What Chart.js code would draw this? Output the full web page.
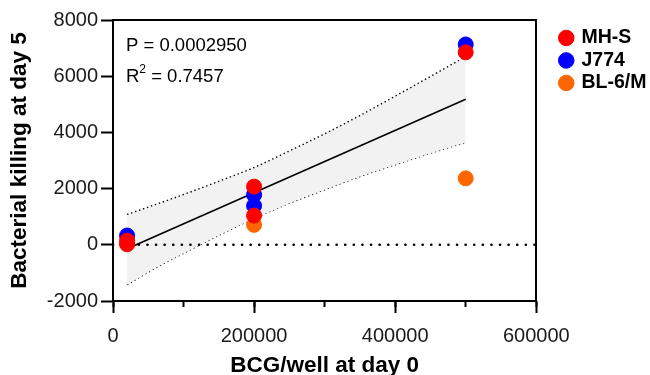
<!DOCTYPE html>
<html>
<head>
<meta charset="utf-8">
<script src="https://cdn.jsdelivr.net/npm/chart.js@4"></script>
<style>
  html, body { margin: 0; padding: 0; background: #fff; }
</style>
</head>
<body>
<canvas id="killChart" width="650" height="375"></canvas>
<script>
// values
const mhsX = [20000, 20000, 200000, 200000, 500000];
const mhsY = [150, 20, 2070, 1040, 6850];
const j774X = [20000, 200000, 200000, 500000];
const j774Y = [330, 1780, 1390, 7130];
const bl6X = [20000, 200000, 500000];
const bl6Y = [40, 710, 2365];

// linear fit and its 95% band
const fitX = [20000, 500000];
const fitY = [-140, 5180];
const bandX = [20000, 60000, 100000, 150000, 200000, 250000, 300000, 350000, 400000, 450000, 500000];
const bandUpper = [1080, 1430, 1790, 2260, 2750, 3340, 3950, 4600, 5290, 5990, 6700];
const bandLower = [-1420, -830, -300, 340, 940, 1480, 1960, 2430, 2850, 3260, 3650];

const zeroX = [0, 600000];
const zeroY = [0, 0];

const pText = "P = 0.0002950";
const r2Value = "0.7457";

const FONT = "'Liberation Sans', Arial, sans-serif";

function pts(xs, ys) {
    return xs.map((x, i) => ({x: x, y: ys[i]}));
}

// P and R² text in the top left corner of the plot
const statsText = {
    id: "statsText",
    afterDatasetsDraw(chart) {
        const a = chart.chartArea;
        const ctx = chart.ctx;
        const x0 = a.left + 13;
        ctx.save();
        ctx.fillStyle = "#000";
        ctx.textBaseline = "alphabetic";
        ctx.font = "18.5px " + FONT;
        ctx.fillText(pText, x0, a.top + 31);
        ctx.fillText("R", x0, a.top + 62);
        const rw = ctx.measureText("R").width;
        ctx.font = "12px " + FONT;
        ctx.fillText("2", x0 + rw, a.top + 53);
        const w2 = ctx.measureText("2").width;
        ctx.font = "18.5px " + FONT;
        ctx.fillText(" = " + r2Value, x0 + rw + w2, a.top + 62);
        ctx.restore();
    }
};

new Chart("killChart", {
    type: "scatter",
    data: {
        datasets: [{
            label: "MH-S",
            data: pts(mhsX, mhsY),
            backgroundColor: "#ff0000",
            borderColor: "#ff0000",
            pointRadius: 7.5,
            pointHoverRadius: 7.5,
            order: 0
        }, {
            label: "J774",
            data: pts(j774X, j774Y),
            backgroundColor: "#0000ff",
            borderColor: "#0000ff",
            pointRadius: 7.5,
            pointHoverRadius: 7.5,
            order: 1
        }, {
            label: "BL-6/M",
            data: pts(bl6X, bl6Y),
            backgroundColor: "#ff6600",
            borderColor: "#ff6600",
            pointRadius: 7.5,
            pointHoverRadius: 7.5,
            order: 2
        }, {
            label: "fit",
            data: pts(fitX, fitY),
            showLine: true,
            borderColor: "#000",
            borderWidth: 1.6,
            pointRadius: 0,
            order: 5
        }, {
            label: "upper",
            data: pts(bandX, bandUpper),
            showLine: true,
            borderColor: "#000",
            borderWidth: 1.4,
            borderDash: [1.4, 2.8],
            cubicInterpolationMode: "monotone",
            pointRadius: 0,
            backgroundColor: "#f2f2f2",
            fill: "+1",
            order: 8
        }, {
            label: "lower",
            data: pts(bandX, bandLower),
            showLine: true,
            borderColor: "#000",
            borderWidth: 1.4,
            borderDash: [1.4, 2.8],
            cubicInterpolationMode: "monotone",
            pointRadius: 0,
            order: 9
        }, {
            label: "zero",
            data: pts(zeroX, zeroY),
            showLine: true,
            borderColor: "#000",
            borderWidth: 2.6,
            borderDash: [0.1, 8.5],
            borderCapStyle: "round",
            pointRadius: 0,
            order: 7
        }]
    },
    options: {
        responsive: false,
        animation: false,
        devicePixelRatio: 1,
        layout: { padding: { top: 20, right: -6.5, left: 0, bottom: 0 } },
        plugins: {
            tooltip: { enabled: false },
            legend: {
                position: "right",
                align: "start",
                title: { display: true, text: "", font: { size: 1 }, padding: { top: 0, bottom: 4 } },
                labels: {
                    filter: (item) => item.datasetIndex < 3,
                    usePointStyle: true,
                    pointStyle: "circle",
                    boxWidth: 11,
                    boxHeight: 11,
                    padding: 3,
                    color: "#000",
                    font: { family: FONT, size: 19.5, weight: "bold" }
                }
            }
        },
        scales: {
            xMinor: {
                type: "linear",
                position: "bottom",
                weight: 0,
                min: 0,
                max: 600000,
                afterFit: (s) => { s.height = 0; },
                ticks: { stepSize: 100000, display: false },
                grid: { drawOnChartArea: false, tickLength: 6, tickWidth: 2, tickColor: "#000" },
                border: { display: false }
            },
            x: {
                type: "linear",
                position: "bottom",
                weight: 1,
                min: 0,
                max: 600000,
                afterFit: (s) => { s.height = 74; },
                ticks: {
                    stepSize: 200000,
                    autoSkip: false,
                    maxRotation: 0,
                    color: "#1a1a1a",
                    padding: 11,
                    font: { family: FONT, size: 20 },
                    callback: (v) => String(v)
                },
                grid: { drawOnChartArea: false, tickLength: 12, tickWidth: 2, tickColor: "#000" },
                border: { color: "#000", width: 2 },
                title: {
                    display: true,
                    text: "BCG/well at day 0",
                    color: "#000",
                    padding: { top: 0, bottom: -4 },
                    font: { family: FONT, size: 22.5, weight: "bold" }
                }
            },
            xTop: {
                type: "linear",
                position: "top",
                min: 0,
                max: 600000,
                afterFit: (s) => { s.height = 0; },
                ticks: { display: false },
                grid: { drawOnChartArea: false, drawTicks: false },
                border: { color: "#000", width: 2 }
            },
            y: {
                min: -2000,
                max: 8000,
                afterFit: (s) => { s.width = 113; },
                ticks: {
                    stepSize: 2000,
                    color: "#1a1a1a",
                    padding: 3,
                    font: { family: FONT, size: 20 },
                    callback: (v) => String(v)
                },
                grid: { drawOnChartArea: false, tickLength: 12, tickWidth: 2, tickColor: "#000" },
                border: { color: "#000", width: 2 },
                title: {
                    display: true,
                    text: "Bacterial killing at day 5",
                    color: "#000",
                    padding: { top: 6, bottom: 0 },
                    font: { family: FONT, size: 22.5, weight: "bold" }
                }
            },
            yRight: {
                position: "right",
                min: -2000,
                max: 8000,
                afterFit: (s) => { s.width = 21.5; },
                ticks: { display: false },
                grid: { drawOnChartArea: false, drawTicks: false },
                border: { color: "#000", width: 2 }
            }
        }
    },
    plugins: [statsText]
});
</script>
</body>
</html>
